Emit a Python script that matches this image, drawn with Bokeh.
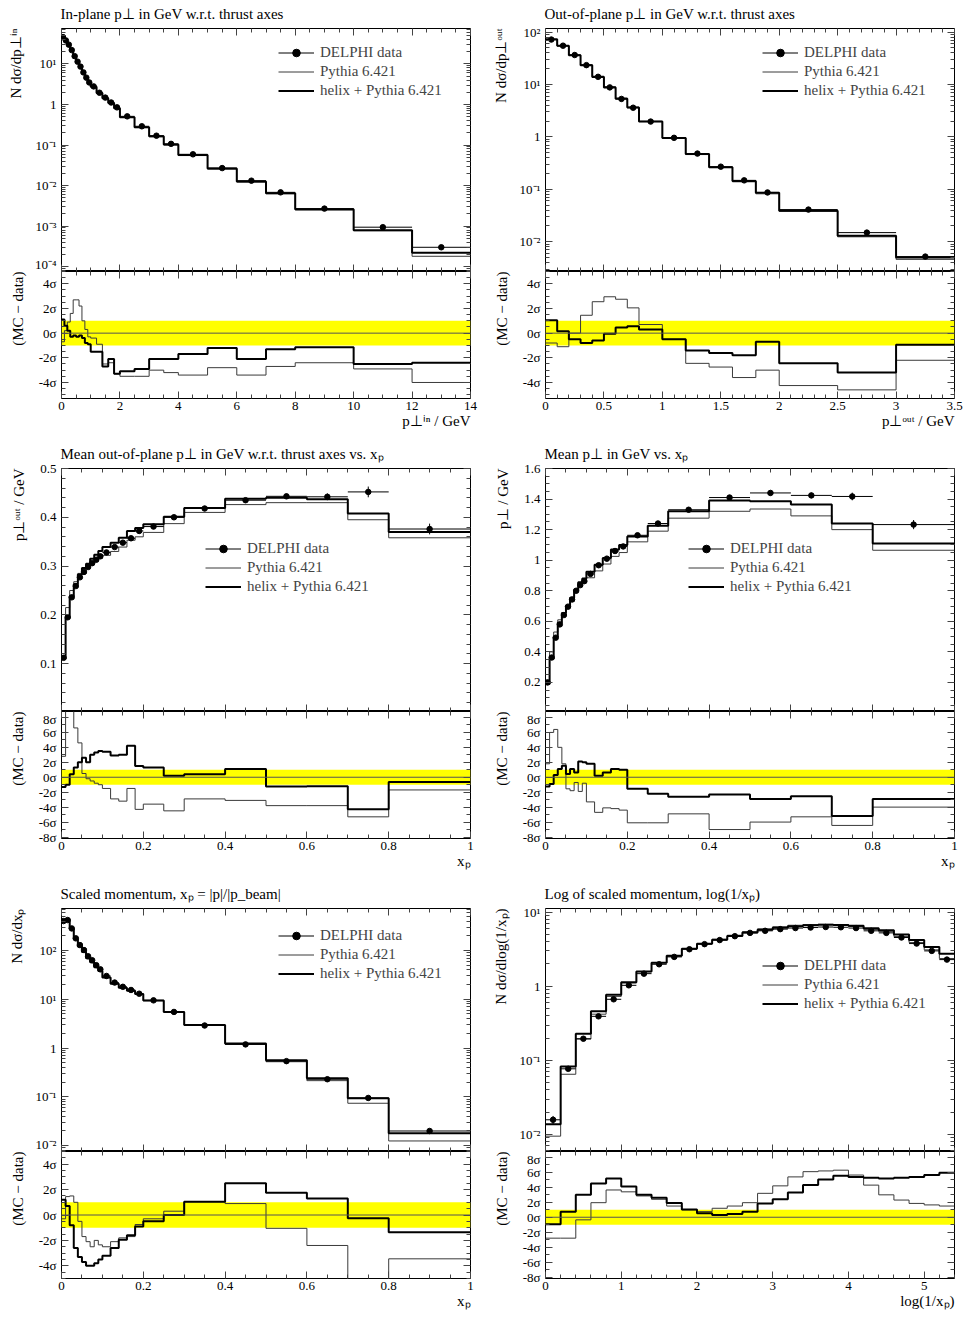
import math
from bokeh.plotting import figure
from bokeh.models import (FixedTicker, CustomJSTickFormatter, LinearAxis, Range1d, Title,
                          Legend, LegendItem, BoxAnnotation, Span)
from bokeh.layouts import column, row
from bokeh.embed import file_html
from bokeh.resources import INLINE

FONT = "Liberation Serif"
LEGEND_LABELS = ["DELPHI data", "Pythia 6.421", "helix + Pythia 6.421"]
RATIO_LABEL = "(MC \u2212 data)"

# ---------------- Panel 1: in-plane pT ----------------
edges_pin = [0, 0.1, 0.2, 0.3, 0.4, 0.5, 0.6, 0.7, 0.8, 0.9, 1.0, 1.2, 1.4, 1.6, 1.8, 2.0,
             2.5, 3.0, 3.5, 4.0, 5.0, 6.0, 7.0, 8.0, 10.0, 12.0, 14.0]
data_pin = [46, 38, 30, 22, 15.6, 11.4, 8.6, 6.2, 4.6, 3.5, 2.8, 1.95, 1.48, 1.12, 0.85,
            0.51, 0.29, 0.17, 0.107, 0.059, 0.027, 0.0132, 0.0068, 0.0027, 0.00094, 0.00030]
err_pin = [0.6, 0.5, 0.4, 0.3, 0.2, 0.15, 0.11, 0.08, 0.06, 0.05, 0.04, 0.03, 0.02, 0.016, 0.013,
           0.008, 0.005, 0.003, 0.002, 0.0012, 0.0006, 0.0003, 0.0002, 0.0001, 0.00006, 0.00003]
py_pin = [43, 38.5, 31, 23.5, 17, 12.4, 9.1, 6.4, 4.65, 3.45, 2.75, 1.92, 1.43, 1.08, 0.80,
          0.48, 0.27, 0.16, 0.100, 0.055, 0.0255, 0.0122, 0.0063, 0.0025, 0.00077, 0.00018]
hx_pin = [47, 38.4, 30.1, 21.9, 15.55, 11.35, 8.58, 6.17, 4.55, 3.45, 2.74, 1.91, 1.43, 1.09, 0.81,
          0.485, 0.275, 0.164, 0.103, 0.057, 0.0263, 0.0126, 0.0065, 0.0026, 0.00079, 0.00022]
dpy_pin = [-0.7, 0.2, 0.9, 1.6, 2.7, 2.7, 2.2, 1.0, 0.3, -0.3, -0.4, -0.9, -2.5, -2.4, -3.3,
           -3.5, -3.5, -3.0, -3.2, -3.4, -2.8, -3.4, -2.7, -2.4, -2.9, -4.0]
dhx_pin = [1.1, 0.6, 0.2, -0.3, -0.2, -0.3, -0.2, -0.4, -0.8, -0.9, -1.5, -1.5, -2.7, -2.1, -3.3,
           -3.1, -2.9, -2.1, -2.1, -1.7, -1.2, -2.1, -1.3, -1.15, -2.5, -2.4]

# ---------------- Panel 2: out-of-plane pT ----------------
edges_pout = [0, 0.1, 0.2, 0.3, 0.4, 0.5, 0.6, 0.7, 0.8, 1.0, 1.2, 1.4, 1.6, 1.8, 2.0, 2.5, 3.0, 3.5]
data_pout = [72, 55, 36.5, 23.4, 14.0, 8.8, 5.3, 3.6, 1.96, 0.96, 0.48, 0.27, 0.148, 0.087,
             0.041, 0.0149, 0.0052]
err_pout = [0.8, 0.6, 0.4, 0.25, 0.15, 0.1, 0.06, 0.04, 0.025, 0.012, 0.007, 0.004, 0.0025,
            0.0015, 0.0008, 0.0006, 0.0003]
py_pout = [71, 54, 36.5, 23.8, 14.4, 9.1, 5.5, 3.7, 1.98, 0.955, 0.46, 0.26, 0.139, 0.082,
           0.038, 0.0124, 0.0046]
hx_pout = [73, 55.1, 36.3, 23.2, 13.9, 8.8, 5.33, 3.62, 1.97, 0.955, 0.47, 0.264, 0.144, 0.086,
           0.039, 0.0130, 0.0050]
dpy_pout = [-0.8, -1.1, 0.0, 1.45, 2.55, 2.95, 2.75, 2.05, 0.7, -0.5, -2.45, -2.75, -3.6, -3.0,
            -4.25, -4.6, -2.2]
dhx_pout = [1.05, 0.15, -0.5, -0.8, -0.6, -0.05, 0.45, 0.55, 0.3, -0.5, -1.4, -1.6, -1.8, -0.7,
            -2.45, -3.2, -0.95]

# ---------------- shared xp binning ----------------
edges_xp = [0, 0.01, 0.02, 0.03, 0.04, 0.05, 0.06, 0.07, 0.08, 0.09, 0.10, 0.12, 0.14, 0.16,
            0.18, 0.20, 0.25, 0.30, 0.40, 0.50, 0.60, 0.70, 0.80, 1.0]

# ---------------- Panel 3: mean pT out vs xp ----------------
data_mout = [0.112, 0.195, 0.236, 0.259, 0.277, 0.288, 0.298, 0.306, 0.313, 0.320, 0.328, 0.339,
             0.348, 0.357, 0.372, 0.381, 0.400, 0.418, 0.435, 0.443, 0.442, 0.452, 0.376]
err_mout = [0.002, 0.002, 0.002, 0.002, 0.002, 0.002, 0.002, 0.002, 0.002, 0.002, 0.002, 0.002,
            0.002, 0.003, 0.003, 0.003, 0.003, 0.003, 0.004, 0.005, 0.007, 0.011, 0.011]
hx_mout = [0.110, 0.193, 0.238, 0.263, 0.283, 0.296, 0.305, 0.315, 0.323, 0.331, 0.339, 0.348,
           0.358, 0.372, 0.378, 0.386, 0.401, 0.419, 0.438, 0.440, 0.437, 0.408, 0.370]
py_mout = [0.117, 0.215, 0.250, 0.268, 0.285, 0.290, 0.297, 0.304, 0.310, 0.316, 0.322, 0.330,
           0.339, 0.353, 0.360, 0.369, 0.387, 0.410, 0.426, 0.430, 0.430, 0.395, 0.358]
dpy_mout = [2.8, 9.5, 9.5, 6.6, 4.6, 0.5, -0.2, -0.5, -0.8, -1.0, -1.5, -2.9, -3.2, -1.5, -4.3,
            -3.6, -4.5, -2.9, -3.1, -3.8, -3.8, -5.3, -1.7]
dhx_mout = [-1.3, -1.0, 0.4, 1.3, 2.0, 2.6, 2.0, 3.0, 3.3, 3.5, 3.4, 2.9, 3.0, 4.2, 1.5, 1.3,
            0.2, 0.4, 1.1, -1.25, -1.2, -4.3, -0.65]

# ---------------- Panel 4: mean pT vs xp ----------------
data_mpt = [0.20, 0.363, 0.493, 0.58, 0.641, 0.696, 0.743, 0.80, 0.837, 0.863, 0.91, 0.967, 1.01,
            1.06, 1.09, 1.163, 1.24, 1.33, 1.41, 1.44, 1.424, 1.417, 1.233]
err_mpt = [0.003, 0.003, 0.004, 0.004, 0.004, 0.005, 0.005, 0.005, 0.006, 0.006, 0.006, 0.007,
           0.007, 0.008, 0.008, 0.008, 0.009, 0.01, 0.012, 0.015, 0.018, 0.025, 0.03]
hx_mpt = [0.19, 0.355, 0.497, 0.59, 0.655, 0.70, 0.755, 0.805, 0.855, 0.88, 0.925, 0.97, 1.015,
          1.07, 1.10, 1.155, 1.225, 1.32, 1.39, 1.385, 1.365, 1.24, 1.11]
py_mpt = [0.215, 0.40, 0.53, 0.61, 0.655, 0.685, 0.73, 0.795, 0.825, 0.855, 0.885, 0.93, 0.975,
          1.025, 1.05, 1.12, 1.19, 1.275, 1.32, 1.335, 1.29, 1.20, 1.065]
dhx_mpt = [-1.25, -0.9, 0.3, 1.1, 1.55, 0.45, 1.1, 0.65, 2.1, 2.0, 1.8, 0.2, 0.65, 1.1, 1.0,
           -1.55, -2.2, -2.6, -2.3, -2.9, -2.55, -5.2, -2.9]
dpy_mpt = [1.8, 6.0, 6.4, 4.0, 1.8, -1.55, -1.8, -0.7, -1.9, -0.8, -3.3, -4.7, -4.1, -4.2, -4.4,
           -6.1, -6.1, -4.9, -7.0, -6.0, -5.3, -6.45, -4.0]

# ---------------- Panel 5: scaled momentum xp ----------------
data_xp = [400, 420, 283, 177, 129, 102, 76, 63, 50, 41, 30, 22, 18, 15.5, 13, 9.5, 5.5, 2.9,
           1.19, 0.54, 0.23, 0.095, 0.020]
err_xp = [6, 6, 4, 2.5, 1.8, 1.4, 1.0, 0.8, 0.6, 0.5, 0.35, 0.25, 0.2, 0.17, 0.14, 0.1, 0.06,
          0.03, 0.013, 0.006, 0.003, 0.0015, 0.0008]
py_xp = [395, 435, 292, 182, 128, 98, 72, 59, 47, 38.5, 28.2, 20.8, 17.2, 15.0, 12.7, 9.35, 5.55,
         2.95, 1.20, 0.525, 0.215, 0.074, 0.0125]
hx_xp = [410, 425, 278, 170, 121, 93, 69, 57, 45.5, 37.8, 28.0, 20.8, 17.3, 15.0, 12.8, 9.4, 5.5,
         2.97, 1.24, 0.56, 0.24, 0.094, 0.018]
dhx_xp = [1.2, 0.7, -0.8, -2.6, -3.3, -3.7, -4.0, -4.0, -3.8, -3.5, -3.2, -2.6, -1.95, -1.6,
          -0.9, -0.5, 0.0, 1.05, 2.5, 1.75, 1.3, -0.25, -1.35]
dpy_xp = [-0.3, 1.45, 1.5, 1.0, -0.5, -1.7, -2.1, -2.5, -2.0, -2.35, -2.5, -2.1, -1.8, -1.7,
          -0.75, -0.3, 0.3, 1.05, 0.9, -1.05, -2.4, -5.5, -3.45]

# ---------------- Panel 6: log(1/xp) ----------------
edges_lxp = [0, 0.2, 0.4, 0.6, 0.8, 1.0, 1.2, 1.4, 1.6, 1.8, 2.0, 2.2, 2.4, 2.6, 2.8, 3.0, 3.2,
             3.4, 3.6, 3.8, 4.0, 4.2, 4.4, 4.6, 4.8, 5.0, 5.2, 5.4]
data_lxp = [0.0158, 0.077, 0.196, 0.393, 0.667, 1.03, 1.48, 1.98, 2.49, 3.16, 3.7, 4.2, 4.74,
            5.25, 5.6, 5.9, 6.1, 6.2, 6.3, 6.25, 6.1, 5.6, 5.25, 4.55, 3.77, 3.0, 2.29]
err_lxp = [0.002, 0.003, 0.005, 0.008, 0.01, 0.015, 0.02, 0.025, 0.03, 0.03, 0.035, 0.04, 0.04,
           0.04, 0.05, 0.05, 0.05, 0.05, 0.05, 0.05, 0.05, 0.05, 0.05, 0.05, 0.05, 0.05, 0.05]
hx_lxp = [0.0138, 0.083, 0.228, 0.46, 0.77, 1.13, 1.58, 2.08, 2.58, 3.22, 3.74, 4.23, 4.78, 5.32,
          5.78, 6.15, 6.45, 6.65, 6.75, 6.7, 6.55, 6.05, 5.7, 5.0, 4.2, 3.4, 2.75]
py_lxp = [0.0095, 0.065, 0.194, 0.42, 0.73, 1.11, 1.57, 2.07, 2.56, 3.22, 3.77, 4.3, 4.88, 5.45,
          5.95, 6.35, 6.65, 6.8, 6.85, 6.75, 6.4, 5.85, 5.45, 4.7, 3.9, 3.1, 2.37]
dhx_lxp = [-0.95, 0.75, 3.0, 4.5, 5.2, 4.1, 3.0, 2.6, 1.9, 1.05, 0.55, 0.3, 0.45, 0.75, 1.85,
           2.4, 3.3, 4.3, 5.05, 5.55, 5.4, 5.3, 5.2, 5.3, 5.4, 5.65, 5.95]
dpy_lxp = [-2.8, -2.8, -0.35, 1.95, 3.65, 3.4, 2.85, 2.4, 1.5, 1.0, 0.75, 1.2, 1.5, 1.95, 3.2,
           4.2, 5.4, 6.1, 6.2, 6.3, 5.65, 4.3, 3.0, 2.3, 1.85, 1.65, 1.5]

# ---------------- helpers ----------------
LOG_JS = """
const e = Math.round(Math.log10(tick));
if (e === 0) { return "1"; }
const sup = {"-": "\u207b", "0": "\u2070", "1": "\u00b9", "2": "\u00b2", "3": "\u00b3",
             "4": "\u2074", "5": "\u2075", "6": "\u2076", "7": "\u2077", "8": "\u2078", "9": "\u2079"};
return "10" + String(e).split("").map(c => sup[c]).join("");
"""
NUM_JS = "return String(Math.round(tick * 1000) / 1000);"
SIG_JS = "return String(Math.round(tick)) + '\u03c3';"


def lin_ticks(lo, hi, major, nminor):
    step = major / nminor
    n0 = math.ceil(lo / step - 1e-9)
    n1 = math.floor(hi / step + 1e-9)
    maj, mnr = [], []
    for i in range(n0, n1 + 1):
        t = round(i * step, 6)
        if i % nminor == 0:
            maj.append(t)
        else:
            mnr.append(t)
    return FixedTicker(ticks=maj, minor_ticks=mnr)


def log_ticks(lo, hi):
    e0 = math.floor(math.log10(lo))
    e1 = math.ceil(math.log10(hi))
    maj = [10.0 ** e for e in range(e0, e1 + 1) if lo * 0.999 <= 10.0 ** e <= hi]
    mnr = [m * 10.0 ** e for e in range(e0, e1 + 1) for m in range(2, 10)
           if lo <= m * 10.0 ** e <= hi]
    return FixedTicker(ticks=maj, minor_ticks=mnr)


def style(ax, ticker, code, show):
    ax.ticker = ticker
    ax.formatter = CustomJSTickFormatter(code=code if show else "return '';")
    ax.axis_line_color = None
    ax.major_tick_in = 7
    ax.major_tick_out = 0
    ax.minor_tick_in = 4
    ax.minor_tick_out = 0
    ax.major_tick_line_color = "#444444"
    ax.minor_tick_line_color = "#444444"
    ax.major_label_text_font = FONT
    ax.major_label_text_font_size = "13px" if show else "0px"
    ax.major_label_text_color = "black"
    ax.major_label_standoff = 5 if show else 0


def side_title(f, text, side, align, valign, standoff):
    t = Title(text=text, align=align, vertical_align=valign, standoff=standoff, offset=0,
              text_font=FONT, text_font_size="15px", text_font_style="normal",
              text_color="black")
    f.add_layout(t, side)


MH, RH, FW = 243, 127, 409
TOP, BOT = 28, 42


def build(P, col):
    left = col == 0
    W = 484 if left else 483
    bl = 61
    br = W - bl - FW
    e = P["edges"]
    lo, hi = e[:-1], e[1:]
    ctr = [(a + b) / 2 for a, b in zip(lo, hi)]
    data, err = P["data"], P["err"]

    m = figure(width=W, height=TOP + MH, x_range=Range1d(*P["xr"]), y_range=Range1d(*P["yr"]),
               y_axis_type="log" if P["ylog"] else "linear", output_backend="svg",
               toolbar_location=None, min_border_left=bl, min_border_right=br,
               min_border_top=TOP, min_border_bottom=0, title=P["title"])
    r = figure(width=W, height=RH + BOT, x_range=m.x_range, y_range=Range1d(*P["rr"]),
               output_backend="svg", toolbar_location=None, min_border_left=bl,
               min_border_right=br, min_border_top=0, min_border_bottom=BOT)
    for f in (m, r):
        f.grid.visible = False
        f.outline_line_color = "black"
        f.outline_line_width = 1
        f.background_fill_color = "white"
        f.border_fill_color = "white"

    m.title.align = "left"
    m.title.offset = -1
    m.title.vertical_align = "top"
    m.title.standoff = 10
    m.title.text_font = FONT
    m.title.text_font_size = "15px"
    m.title.text_font_style = "normal"
    m.title.text_color = "black"

    xmaj, xmin = P["xt"]
    # main axes
    style(m.xaxis[0], lin_ticks(*P["xr"], xmaj, xmin), NUM_JS, False)
    ax = LinearAxis()
    m.add_layout(ax, "above")
    style(ax, lin_ticks(*P["xr"], xmaj, xmin), NUM_JS, False)
    if P["ylog"]:
        style(m.yaxis[0], log_ticks(*P["yr"]), LOG_JS, True)
        ax = LinearAxis()
        m.add_layout(ax, "right")
        style(ax, log_ticks(*P["yr"]), LOG_JS, False)
    else:
        ymaj, ymin = P["yt"]
        style(m.yaxis[0], lin_ticks(*P["yr"], ymaj, ymin), NUM_JS, True)
        ax = LinearAxis()
        m.add_layout(ax, "right")
        style(ax, lin_ticks(*P["yr"], ymaj, ymin), NUM_JS, False)
    side_title(m, P["ylab"], "left", "right", "middle", P["ystand"])

    # ratio axes
    style(r.xaxis[0], lin_ticks(*P["xr"], xmaj, xmin), NUM_JS, True)
    r.xaxis[0].major_label_standoff = 3
    ax = LinearAxis()
    r.add_layout(ax, "above")
    style(ax, lin_ticks(*P["xr"], xmaj, xmin), NUM_JS, False)
    rmaj, rmin = P["rt"]
    style(r.yaxis[0], lin_ticks(*P["rr"], rmaj, rmin), SIG_JS, True)
    ax = LinearAxis()
    r.add_layout(ax, "right")
    style(ax, lin_ticks(*P["rr"], rmaj, rmin), SIG_JS, False)
    side_title(r, RATIO_LABEL, "left", "right", "middle", 17)
    side_title(r, P["xlab"], "below", "right", "top", 0)

    # main content
    ext = lambda v: list(v) + [v[-1]]
    pyr = m.step(x=e, y=ext(P["py"]), mode="after", line_color="#3a3a3a", line_width=1.0)
    hxr = m.step(x=e, y=ext(P["hx"]), mode="after", line_color="black", line_width=2.0)
    hb = m.segment(x0=lo, x1=hi, y0=data, y1=data, line_color="black", line_width=1.0)
    m.segment(x0=ctr, x1=ctr, y0=[d - s for d, s in zip(data, err)],
              y1=[d + s for d, s in zip(data, err)], line_color="black", line_width=1.0)
    sc = m.scatter(x=ctr, y=data, size=5.5, fill_color="black", line_color="black")

    leg = Legend(items=[LegendItem(label=LEGEND_LABELS[0], renderers=[hb, sc]),
                        LegendItem(label=LEGEND_LABELS[1], renderers=[pyr]),
                        LegendItem(label=LEGEND_LABELS[2], renderers=[hxr])],
                 location=P["leg"], orientation="vertical", border_line_color=None,
                 background_fill_alpha=0, padding=0, margin=0, spacing=0,
                 glyph_width=36, glyph_height=19, label_height=19, label_standoff=6,
                 label_text_font=FONT, label_text_font_size="15px")
    m.add_layout(leg)

    # ratio content
    r.add_layout(BoxAnnotation(bottom=-1, top=1, fill_color="#ffff00", fill_alpha=1.0,
                               line_alpha=0, level="underlay"))
    r.add_layout(Span(location=0, dimension="width", line_color="#555555", line_width=1.0))
    r.step(x=e, y=ext(P["dpy"]), mode="after", line_color="#3a3a3a", line_width=1.0)
    r.step(x=e, y=ext(P["dhx"]), mode="after", line_color="black", line_width=2.0)
    return column(m, r)


P1 = dict(edges=edges_pin, data=data_pin, err=err_pin, py=py_pin, hx=hx_pin, dpy=dpy_pin,
          dhx=dhx_pin, xr=(0, 14), xt=(2, 4), yr=(10 ** -4.12, 75), ylog=True, yt=None,
          rr=(-5.3, 5.0), rt=(2, 4), leg=(217, 171), ystand=13,
          title="In-plane p\u22a5 in GeV w.r.t. thrust axes",
          ylab="N d\u03c3/dp\u22a5\u2071\u207f", xlab="p\u22a5\u2071\u207f / GeV")
P2 = dict(edges=edges_pout, data=data_pout, err=err_pout, py=py_pout, hx=hx_pout, dpy=dpy_pout,
          dhx=dhx_pout, xr=(0, 3.5), xt=(0.5, 5), yr=(2.7e-3, 117), ylog=True, yt=None,
          rr=(-5.3, 5.0), rt=(2, 4), leg=(217, 171), ystand=13,
          title="Out-of-plane p\u22a5 in GeV w.r.t. thrust axes",
          ylab="N d\u03c3/dp\u22a5\u1d52\u1d58\u1d57", xlab="p\u22a5\u1d52\u1d58\u1d57 / GeV")
P3 = dict(edges=edges_xp, data=data_mout, err=err_mout, py=py_mout, hx=hx_mout, dpy=dpy_mout,
          dhx=dhx_mout, xr=(0, 1), xt=(0.2, 4), yr=(0.002, 0.5), ylog=False, yt=(0.1, 5),
          rr=(-8.2, 8.8), rt=(2, 2), leg=(144, 115), ystand=19,
          title="Mean out-of-plane p\u22a5 in GeV w.r.t. thrust axes vs. x\u209a",
          ylab="p\u22a5\u1d52\u1d58\u1d57 / GeV", xlab="x\u209a")
P4 = dict(edges=edges_xp, data=data_mpt, err=err_mpt, py=py_mpt, hx=hx_mpt, dpy=dpy_mpt,
          dhx=dhx_mpt, xr=(0, 1), xt=(0.2, 4), yr=(0.01, 1.6), ylog=False, yt=(0.2, 4),
          rr=(-8.2, 8.8), rt=(2, 2), leg=(143, 115), ystand=19,
          title="Mean p\u22a5 in GeV vs. x\u209a",
          ylab="p\u22a5 / GeV", xlab="x\u209a")
P5 = dict(edges=edges_xp, data=data_xp, err=err_xp, py=py_xp, hx=hx_xp, dpy=dpy_xp, dhx=dhx_xp,
          xr=(0, 1), xt=(0.2, 4), yr=(0.0076, 724), ylog=True, yt=None,
          rr=(-5.0, 5.0), rt=(2, 4), leg=(217, 168), ystand=13,
          title="Scaled momentum, x\u209a = |p|/|p_beam|",
          ylab="N d\u03c3/dx\u209a", xlab="x\u209a")
P6 = dict(edges=edges_lxp, data=data_lxp, err=err_lxp, py=py_lxp, hx=hx_lxp, dpy=dpy_lxp,
          dhx=dhx_lxp, xr=(0, 5.4), xt=(1, 5), yr=(0.0059, 11.2), ylog=True, yt=None,
          rr=(-8.2, 8.8), rt=(2, 2), leg=(217, 138), ystand=13,
          title="Log of scaled momentum, log(1/x\u209a)",
          ylab="N d\u03c3/dlog(1/x\u209a)", xlab="log(1/x\u209a)")

layout = column(row(build(P1, 0), build(P2, 1)),
                row(build(P3, 0), build(P4, 1)),
                row(build(P5, 0), build(P6, 1)))

with open("out.html", "w", encoding="utf-8") as fh:
    fh.write(file_html(layout, INLINE, "DELPHI comparison"))
